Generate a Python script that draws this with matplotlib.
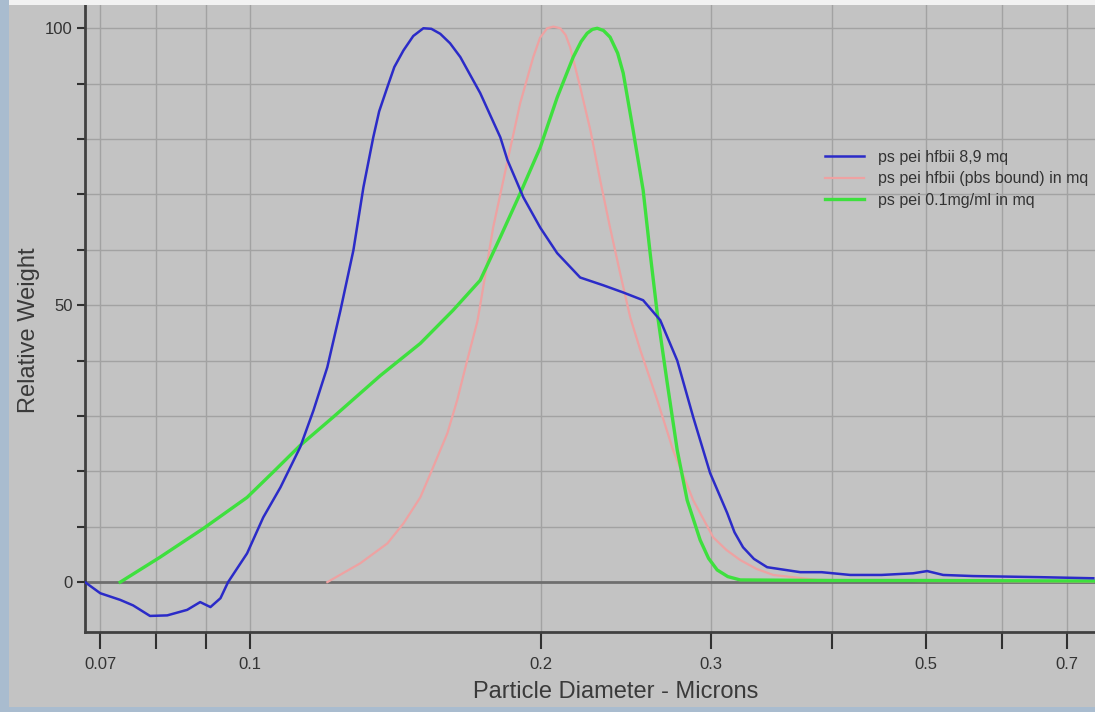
import numpy as np
import matplotlib
matplotlib.use("Agg")
import matplotlib.pyplot as plt
from matplotlib.patches import Rectangle
from matplotlib.ticker import FixedLocator, NullLocator

plt.rcParams['font.family'] = ['Liberation Sans', 'DejaVu Sans']

# ps pei hfbii 8,9 mq
blue_x = [0.0675, 0.0700, 0.0734, 0.0757, 0.0788, 0.0821, 0.0861, 0.0888, 0.0910,
          0.0932, 0.0949, 0.0993, 0.1032, 0.1075, 0.1127, 0.1163, 0.1202, 0.1240,
          0.1279, 0.1310, 0.1341, 0.1360, 0.1387, 0.1410, 0.1441, 0.1475, 0.1511,
          0.1540, 0.1573, 0.1610, 0.1650, 0.1730, 0.1815, 0.1846, 0.1917, 0.1996,
          0.2078, 0.2195, 0.2319, 0.2432, 0.2550, 0.2656, 0.2766, 0.2873, 0.2991,
          0.3115, 0.3170, 0.3235, 0.3320, 0.3426, 0.3708, 0.3900, 0.4176, 0.4500,
          0.4851, 0.5016, 0.5210, 0.5595, 0.6565, 0.7450]
blue_y = [0.0, -2.0, -3.2, -4.2, -6.1, -6.0, -5.0, -3.6, -4.5,
          -2.9, 0.0, 5.2, 11.7, 17.1, 24.4, 31.0, 38.8, 49.0,
          59.9, 71.3, 80.3, 85.0, 89.4, 93.0, 96.0, 98.6, 100.0,
          99.9, 99.0, 97.3, 94.8, 88.3, 80.3, 76.2, 69.5, 64.0,
          59.4, 55.0, 53.6, 52.3, 50.9, 47.3, 40.0, 29.8, 19.7,
          12.5, 9.0, 6.3, 4.2, 2.7, 1.8, 1.8, 1.3, 1.3,
          1.6, 2.0, 1.3, 1.1, 0.9, 0.7]

# ps pei hfbii (pbs bound) in mq
pink_x = [0.1202, 0.1300, 0.1387, 0.1441, 0.1500, 0.1547, 0.1600, 0.1638, 0.1677,
          0.1718, 0.1730, 0.1784, 0.1846, 0.1903, 0.1963, 0.1995, 0.2029, 0.2060,
          0.2093, 0.2120, 0.2143, 0.2195, 0.2249, 0.2302, 0.2357, 0.2414, 0.2473,
          0.2533, 0.2637, 0.2739, 0.2873, 0.3013, 0.3110, 0.3213, 0.3340, 0.3476,
          0.3860, 0.5000, 0.7450]
pink_y = [0.0, 3.4, 7.0, 10.6, 15.3, 20.8, 26.9, 32.9, 40.0,
          47.0, 50.0, 64.0, 76.0, 86.5, 94.8, 98.3, 100.0, 100.3,
          100.0, 98.8, 96.6, 89.4, 81.6, 72.6, 64.0, 55.8, 47.8,
          41.9, 32.9, 23.8, 14.8, 8.1, 5.8, 4.0, 2.4, 1.3,
          0.4, 0.2, 0.1]

# ps pei 0.1mg/ml in mq
green_x = [0.0734, 0.0807, 0.0895, 0.0993, 0.1057, 0.1127, 0.1219, 0.1364, 0.1500,
           0.1622, 0.1730, 0.1815, 0.1903, 0.1996, 0.2078, 0.2159, 0.2200, 0.2232,
           0.2260, 0.2286, 0.2320, 0.2357, 0.2400, 0.2432, 0.2490, 0.2550, 0.2593,
           0.2637, 0.2701, 0.2766, 0.2832, 0.2921, 0.2980, 0.3042, 0.3120, 0.3213,
           0.4000, 0.5000, 0.7450]
green_y = [0.0, 4.5, 9.7, 15.3, 19.9, 24.7, 29.8, 37.3, 43.1,
           49.1, 54.5, 62.3, 70.2, 78.5, 87.5, 94.8, 97.6, 99.1,
           99.8, 100.0, 99.6, 98.4, 95.5, 91.9, 81.6, 70.8, 59.4,
           48.6, 35.9, 23.8, 14.8, 7.6, 4.3, 2.2, 1.0, 0.4,
           0.3, 0.3, 0.2]

x_ticks = [0.07, 0.08, 0.09, 0.1, 0.2, 0.3, 0.4, 0.5, 0.6, 0.7]
x_labels = ['0.07', '', '', '0.1', '0.2', '0.3', '', '0.5', '', '0.7']
y_ticks = list(range(0, 101, 10))
y_labels = ['0', '', '', '', '', '50', '', '', '', '', '100']

bg = '#c3c3c3'
fig = plt.figure(figsize=(10.95, 7.12), dpi=100, facecolor=bg)

# window border around the plot
fig.patches.append(Rectangle((0, 1 - 5 / 712), 1, 5 / 712, transform=fig.transFigure,
                             facecolor='#f2f2f2', edgecolor='none', zorder=0))
fig.patches.append(Rectangle((0, 0), 9 / 1095, 1, transform=fig.transFigure,
                             facecolor='#a9bccf', edgecolor='none', zorder=0))
fig.patches.append(Rectangle((0, 0), 1, 5 / 712, transform=fig.transFigure,
                             facecolor='#a9bccf', edgecolor='none', zorder=0))

ax = fig.add_axes([85 / 1095, 1 - 632 / 712, 1 - 85 / 1095, 627 / 712])
ax.set_facecolor(bg)
ax.set_xscale('log')
ax.set_xlim(0.0675, 0.748)
ax.set_ylim(-9, 104.2)

ax.xaxis.set_major_locator(FixedLocator(x_ticks))
ax.xaxis.set_minor_locator(NullLocator())
ax.set_xticklabels(x_labels)
ax.set_yticks(y_ticks)
ax.set_yticklabels(y_labels)

ax.tick_params(axis='x', direction='out', length=12, width=1.5, color='#303030',
               labelsize=12, labelcolor='#333333', pad=6)
ax.tick_params(axis='y', direction='out', length=6, width=1.5, color='#303030',
               labelsize=12, labelcolor='#333333', pad=3)

for y in y_ticks[1:]:
    ax.axhline(y, color='#a2a2a2', lw=1.0, zorder=1)
for x in x_ticks:
    ax.axvline(x, color='#a2a2a2', lw=1.0, zorder=1)
ax.axhline(0, color='#6e6e6e', lw=2.0, zorder=1)

for side in ['top', 'right']:
    ax.spines[side].set_visible(False)
for side in ['left', 'bottom']:
    ax.spines[side].set_color('#404040')
    ax.spines[side].set_linewidth(2)

ax.plot(blue_x, blue_y, color='#2b2bc8', lw=1.8, zorder=4, label='ps pei hfbii 8,9 mq')
ax.plot(pink_x, pink_y, color='#eea2a2', lw=1.6, zorder=2,
        label='ps pei hfbii (pbs bound) in mq')
ax.plot(green_x, green_y, color='#3ee03e', lw=2.4, zorder=3, label='ps pei 0.1mg/ml in mq')

ax.legend(loc='upper left', bbox_to_anchor=(0.733, 0.769), frameon=False, fontsize=11.5,
          handlelength=2.4, handletextpad=0.9, labelspacing=0.4, borderpad=0,
          borderaxespad=0, labelcolor='#333333')

ax.set_xlabel('Particle Diameter - Microns', fontsize=17, color='#3a3a3a')
ax.set_ylabel('Relative Weight', fontsize=17, color='#3a3a3a')
ax.xaxis.set_label_coords(0.525, -0.078)
ax.yaxis.set_label_coords(-0.045, 0.482)

fig.savefig('out.png', dpi=100, facecolor=bg)
